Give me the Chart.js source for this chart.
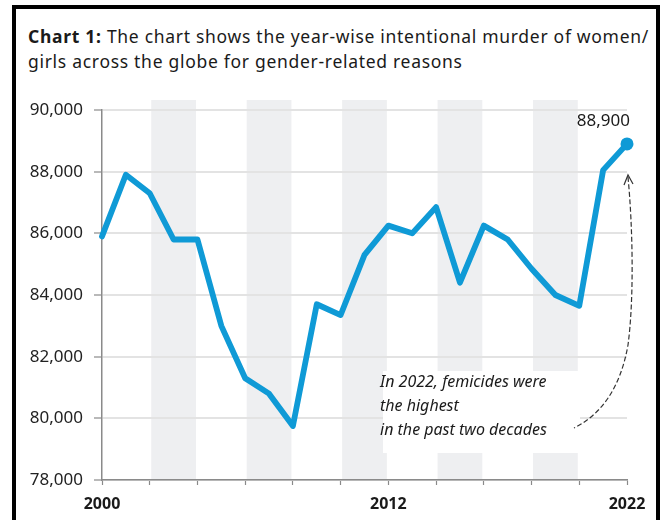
<!DOCTYPE html>
<html>
<head>
<meta charset="utf-8">
<script src="https://cdn.jsdelivr.net/npm/chart.js@4.4.1/dist/chart.umd.min.js"></script>
<style>
  html, body { margin: 0; padding: 0; background: #fff; }
  #wrap { position: relative; width: 668px; height: 520px; overflow: hidden; background: #fff; }
  #frame { position: absolute; left: 12px; top: 5px; width: 640px; height: 600px; border: 4px solid #000; border-bottom: none; }
  #title { position: absolute; left: 28px; top: 24px; font-family: "Noto Sans", sans-serif; font-size: 17.5px; line-height: 25px; color: #1a1a1a; white-space: nowrap; }
  #title b { font-weight: bold; }
  canvas { position: absolute; left: 0; top: 0; }
</style>
</head>
<body>
<div id="wrap">
  <div id="frame"></div>
  <div id="title">
    <div id="t1"><b>Chart 1:</b> The chart shows the year-wise intentional murder of women/</div>
    <div id="t2">girls across the globe for gender-related reasons</div>
  </div>
  <canvas id="chart" width="668" height="520"></canvas>
</div>
<script>
const years = ["2000", "2001", "2002", "2003", "2004", "2005", "2006", "2007", "2008", "2009", "2010",
  "2011", "2012", "2013", "2014", "2015", "2016", "2017", "2018", "2019", "2020", "2021", "2022"];
const murders = [85900, 87900, 87300, 85800, 85800, 83000, 81300, 80800, 79750, 83700, 83350,
  85300, 86250, 86000, 86850, 84400, 86250, 85800, 84850, 84000, 83650, 88050, 88900];
const yTicks = [78000, 80000, 82000, 84000, 86000, 88000, 90000];
const shownYears = ["2000", "2012", "2022"];
const bandYears = [["2002", "2004"], ["2006", "2008"], ["2010", "2012"], ["2014", "2016"], ["2018", "2020"]];
const note = ["In 2022, femicides were", "the highest", "in the past two decades"];

const BLUE = "#0f9ad6";
const AXIS = "#8a8a8a";

// squeeze the title so the first line spans the frame like the original
const t1 = document.getElementById("t1");
const w1 = t1.getBoundingClientRect().width;
document.getElementById("title").style.letterSpacing = ((621 - w1) / t1.textContent.length) + "px";

const decor = {
  id: "decor",
  beforeDraw(chart) {
    const { ctx, chartArea, scales: { x } } = chart;
    ctx.save();
    ctx.fillStyle = "#eeeff1";
    bandYears.forEach(([a, b]) => {
      const x0 = x.getPixelForValue(years.indexOf(a)) + 1.5;
      const x1 = x.getPixelForValue(years.indexOf(b)) - 1.5;
      ctx.fillRect(x0, chartArea.top - 10, x1 - x0, chartArea.bottom - chartArea.top + 10);
    });
    ctx.restore();
  },
  beforeDatasetsDraw(chart) {
    const ctx = chart.ctx;
    ctx.save();
    ctx.fillStyle = "#fff";
    ctx.fillRect(383, 371, 197, 82);
    ctx.restore();
  },
  afterDatasetsDraw(chart) {
    const ctx = chart.ctx;
    const meta = chart.getDatasetMeta(0);
    const last = meta.data[meta.data.length - 1];
    ctx.save();

    // value label on the last point
    ctx.fillStyle = "#1a1a1a";
    ctx.font = "17px 'Noto Sans'";
    ctx.textAlign = "right";
    ctx.textBaseline = "middle";
    ctx.fillText(murders[murders.length - 1].toLocaleString("en-US"), last.x + 3, last.y - 23);

    // note
    ctx.font = "italic 16px 'Noto Sans'";
    ctx.textAlign = "left";
    note.forEach((line, i) => ctx.fillText(line, 380, 382 + i * 24));

    // dashed arrow
    ctx.strokeStyle = "#333";
    ctx.lineWidth = 1.2;
    ctx.setLineDash([5, 2.5]);
    ctx.beginPath();
    ctx.moveTo(628, 177);
    ctx.bezierCurveTo(633, 230, 634, 300, 628, 345);
    ctx.bezierCurveTo(620, 390, 600, 415, 574, 428);
    ctx.stroke();
    ctx.setLineDash([]);
    ctx.beginPath();
    ctx.moveTo(624, 185);
    ctx.lineTo(628, 175);
    ctx.lineTo(633, 184);
    ctx.stroke();
    ctx.restore();
  }
};

new Chart(document.getElementById("chart"), {
  type: "line",
  data: {
    labels: years,
    datasets: [{
      data: murders,
      borderColor: BLUE,
      backgroundColor: BLUE,
      borderWidth: 5.8,
      borderJoinStyle: "round",
      borderCapStyle: "round",
      tension: 0,
      clip: false,
      pointRadius: (c) => (c.dataIndex === murders.length - 1 ? 6.5 : 0),
      pointBorderWidth: 0,
      pointBackgroundColor: BLUE,
    }],
  },
  options: {
    responsive: false,
    animation: false,
    devicePixelRatio: 1,
    layout: { padding: { left: 0, right: 41, top: 110, bottom: 0 } },
    plugins: { legend: { display: false }, tooltip: { enabled: false } },
    scales: {
      x: {
        afterFit: (s) => { s.height = 40; },
        ticks: {
          autoSkip: false,
          maxRotation: 0,
          padding: 10,
          color: "#1a1a1a",
          font: { family: "Noto Sans", size: 16, weight: "bold" },
          callback: (v, i) => (shownYears.includes(years[i]) ? years[i] : ""),
        },
        grid: {
          drawOnChartArea: false,
          tickLength: 5,
          tickWidth: 1.2,
          tickColor: (c) => (c.index % 2 === 0 ? AXIS : "rgba(0,0,0,0)"),
        },
        border: { display: true, color: AXIS, width: 1.5 },
      },
      y: {
        min: 78000,
        max: 90000,
        afterBuildTicks: (s) => { s.ticks = yTicks.map((v) => ({ value: v })); },
        afterFit: (s) => { s.width = 102; },
        ticks: {
          padding: 11,
          color: "#222",
          font: { family: "Noto Sans", size: 17 },
          callback: (v) => v.toLocaleString("en-US"),
        },
        grid: { color: "#e3e3e3", lineWidth: 2, tickColor: AXIS, tickLength: 8, tickWidth: 1.2 },
        border: { display: true, color: AXIS, width: 1.5 },
      },
    },
  },
  plugins: [decor],
});
</script>
</body>
</html>
